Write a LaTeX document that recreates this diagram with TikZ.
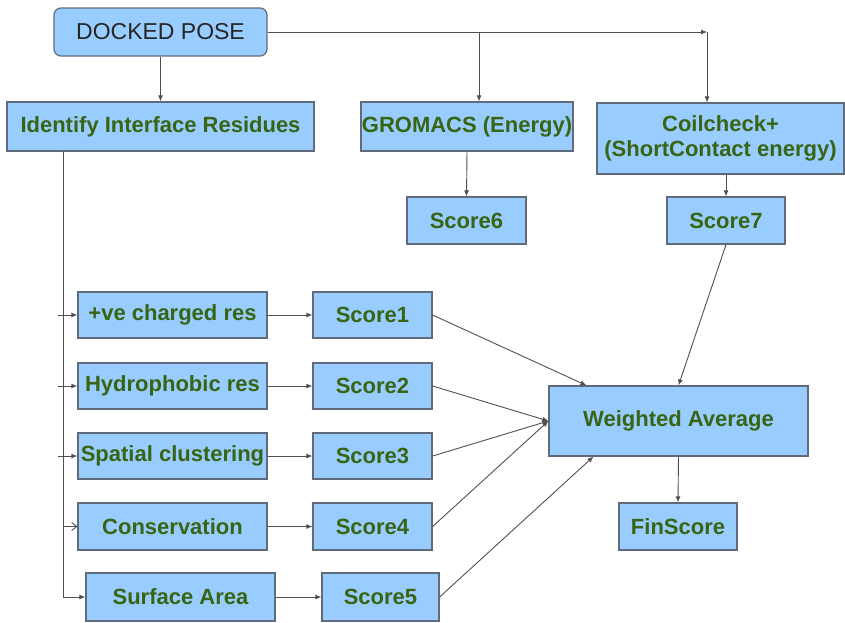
\documentclass[tikz,border=0pt]{standalone}
\usepackage{fontspec}
\setmainfont{Liberation Sans}
\usetikzlibrary{arrows.meta,positioning}
\definecolor{boxfill}{HTML}{99CCFF}
\definecolor{boxline}{HTML}{5F6B7A}
\definecolor{txtgreen}{HTML}{386514}
\definecolor{lnk}{HTML}{505050}
\begin{document}
\begin{tikzpicture}[x=1pt,y=-1pt,
  box/.style={draw=boxline,line width=1.2pt,fill=boxfill,inner sep=0pt,anchor=center,
    align=center,text=txtgreen,font=\fontsize{22}{25}\selectfont\bfseries},
  arr/.style={draw=lnk,line width=0.9pt,-{Latex[length=6pt,width=5pt]}},
  oarr/.style={draw=lnk,line width=0.9pt,-{Straight Barb[length=5pt,width=8pt]}},
  ln/.style={draw=lnk,line width=0.9pt}]
\useasboundingbox (0,0) rectangle (845,622);
% nodes
\node[box,rounded corners=7pt,minimum width=213pt,minimum height=48pt,text=black!85,
  font=\fontsize{23}{26}\selectfont] (dock) at (160.5,32) {DOCKED POSE};
\node[box,minimum width=307pt,minimum height=49pt] (iir) at (160.5,126.5) {Identify Interface Residues};
\node[box,minimum width=212pt,minimum height=49pt] (grom) at (467,126.5) {GROMACS (Energy)};
\node[box,minimum width=247pt,minimum height=71pt] (coil) at (720.5,138.5) {Coilcheck+\\(ShortContact energy)};
\node[box,minimum width=119pt,minimum height=47pt] (s6) at (466.5,220.5) {Score6};
\node[box,minimum width=118pt,minimum height=47pt] (s7) at (726,220.5) {Score7};
\node[box,minimum width=189pt,minimum height=46pt] (r1) at (172.5,315) {+ve charged res};
\node[box,minimum width=189pt,minimum height=46pt] (r2) at (172.5,386) {Hydrophobic res};
\node[box,minimum width=189pt,minimum height=46pt] (r3) at (172.5,456) {Spatial clustering};
\node[box,minimum width=189pt,minimum height=47pt] (r4) at (172.5,526.5) {Conservation};
\node[box,minimum width=189pt,minimum height=48pt] (r5) at (180.5,597) {Surface Area};
\node[box,minimum width=119pt,minimum height=46pt] (c1) at (372.5,315) {Score1};
\node[box,minimum width=119pt,minimum height=46pt] (c2) at (372.5,386) {Score2};
\node[box,minimum width=119pt,minimum height=46pt] (c3) at (372.5,456) {Score3};
\node[box,minimum width=119pt,minimum height=47pt] (c4) at (372.5,526.5) {Score4};
\node[box,minimum width=117pt,minimum height=48pt] (c5) at (380.5,597) {Score5};
\node[box,minimum width=259pt,minimum height=70pt] (wa) at (678.5,421) {Weighted Average};
\node[box,minimum width=118pt,minimum height=47pt] (fin) at (678,526.5) {FinScore};
% coordinates
\coordinate (ctop) at (707,32);
\coordinate (gb) at (479,32);
\coordinate (vl) at (63,151);
% top connectors
\draw[arr] (dock.south) -- (iir.north);
\draw[arr] (dock.east) -- (ctop);
\draw[arr] (ctop) -- (ctop |- coil.north);
\draw[arr] (gb) -- (gb |- grom.north);
\draw[arr] (grom.south) -- (s6.north);
\draw[arr] (s7.north |- coil.south) -- (s7.north);
% left trunk
\draw[ln] (vl) -- (vl |- r5.west);
\draw[arr] (vl |- r5.west) -- (r5.west);
\draw[arr] ([xshift=-5pt]vl |- r1.west) -- (r1.west);
\draw[arr] ([xshift=-5pt]vl |- r2.west) -- (r2.west);
\draw[arr] ([xshift=-5pt]vl |- r3.west) -- (r3.west);
\draw[oarr] (vl |- r4.west) -- (r4.west);
% rows
\draw[arr] (r1) -- (c1);
\draw[arr] (r2) -- (c2);
\draw[arr] (r3) -- (c3);
\draw[arr] (r4) -- (c4);
\draw[arr] (r5) -- (c5);
% to weighted average
\draw[arr] (c1.east) -- ([xshift=38pt]wa.north west);
\draw[arr] (c2.east) -- (wa.west);
\draw[arr] (c3.east) -- (wa.west);
\draw[arr] (c4.east) -- (wa.west);
\draw[arr] (c5.east) -- ([xshift=45pt]wa.south west);
\draw[arr] (s7.south) -- (wa.north);
\draw[arr] (wa.south) -- (fin.north);
\end{tikzpicture}
\end{document}
